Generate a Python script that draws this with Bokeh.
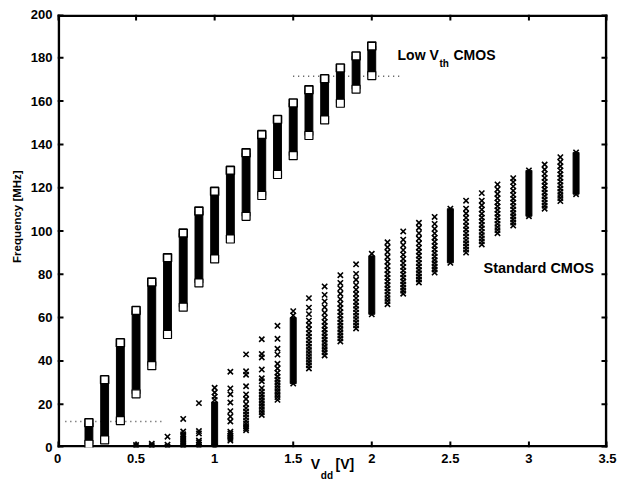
from bokeh.plotting import figure
from bokeh.models import Range1d, LinearAxis, FixedTicker, Label
from bokeh.embed import file_html
from bokeh.resources import INLINE

# ---------------- data ----------------
# Low Vth CMOS: supply voltage, lowest and highest measured frequency [MHz]
lv_vdd = [0.2, 0.3, 0.4, 0.5, 0.6, 0.7, 0.8, 0.9, 1.0, 1.1, 1.2, 1.3, 1.4, 1.5, 1.6, 1.7, 1.8, 1.9, 2.0]
lv_lo = [1.5, 3.5, 12.4, 24.8, 37.8, 52.2, 64.8, 76.0, 87.1, 96.3, 106.8, 116.4, 126.1, 134.8, 144.1, 151.3, 159.0, 165.5, 171.8]
lv_hi = [11.4, 31.3, 48.4, 63.3, 76.4, 87.6, 99.0, 109.2, 118.3, 128.0, 136.1, 144.5, 151.5, 159.1, 165.2, 170.3, 175.3, 180.8, 185.4]

# Standard CMOS: densely sampled supply voltages (solid columns)
dense_vdd = [1.0, 1.5, 2.0, 2.5, 3.0, 3.3]
dense_lo = [0.4, 29.5, 61.5, 85.3, 106.8, 117.0]
dense_hi = [21.0, 60.0, 88.5, 110.3, 128.0, 136.3]

# Standard CMOS: individual readings per supply voltage [MHz]
std_05 = [0.6, 1.2]
std_06 = [0.5, 1.1, 1.8]
std_07 = [0.5, 1.3, 5.0]
std_08 = [0.4, 1.1, 1.9, 2.7, 3.5, 4.3, 5.2, 6.1, 7.4, 13.2]
std_09 = [0.5, 1.4, 2.4, 3.2, 6.5, 7.6, 20.5]
std_10 = [0.5, 22.0, 23.5, 25.4, 27.6]
std_11 = [3.2, 4.0, 4.8, 5.6, 6.5, 7.3, 12.0, 14.3, 16.8, 20.8, 24.6, 27.3, 35.0]
std_12 = [8.0, 8.9, 9.8, 11.0, 12.3, 13.8, 15.2, 16.6, 18.2, 20.0, 22.4, 24.5, 28.3, 33.6, 35.2, 43.0]
std_13 = [15.0, 16.3, 17.6, 18.9, 20.2, 21.6, 23.0, 24.4, 25.8, 27.4, 30.6, 32.0, 36.0, 41.6, 43.2, 50.0]
std_14 = [22.0, 23.3, 24.6, 25.9, 27.2, 28.5, 29.9, 31.3, 32.8, 34.5, 36.5, 38.7, 42.9, 45.6, 50.2, 56.2]
std_15 = [29.5, 61.0, 63.0]
std_16 = [36.5, 38.0, 39.4, 40.8, 42.2, 43.6, 45.0, 46.5, 48.0, 49.6, 51.2, 52.8, 54.6, 56.6, 58.6, 61.6, 64.6, 69.0]
std_17 = [42.5, 44.0, 45.4, 46.8, 48.3, 49.8, 51.3, 52.9, 54.5, 56.2, 58.0, 60.0, 62.2, 64.8, 67.5, 70.5, 74.4]
std_18 = [49.0, 50.4, 51.8, 53.2, 54.7, 56.2, 57.7, 59.3, 60.9, 62.6, 64.4, 66.3, 68.5, 71.0, 73.5, 76.0, 79.6]
std_19 = [55.0, 56.4, 57.8, 59.3, 60.8, 62.3, 63.9, 65.5, 67.2, 69.0, 70.9, 72.9, 75.0, 77.5, 80.2, 84.6]
std_20 = [61.5, 89.5]
std_21 = [66.2, 67.6, 69.0, 70.5, 72.0, 73.5, 75.1, 76.7, 78.4, 80.1, 81.9, 83.8, 85.8, 88.0, 90.3, 92.5, 94.8]
std_22 = [71.0, 72.4, 73.8, 75.3, 76.8, 78.4, 80.0, 81.7, 83.4, 85.2, 87.1, 89.1, 91.2, 93.5, 96.0, 99.8]
std_23 = [76.2, 77.6, 79.0, 80.5, 82.0, 83.6, 85.2, 86.9, 88.6, 90.4, 92.3, 94.3, 96.5, 99.0, 101.5, 103.8]
std_24 = [80.8, 82.2, 83.6, 85.1, 86.6, 88.2, 89.8, 91.5, 93.2, 95.0, 96.9, 98.9, 101.0, 103.3, 106.5]
std_25 = [85.3, 110.3]
std_26 = [90.0, 91.4, 92.8, 94.3, 95.8, 97.4, 99.0, 100.7, 102.4, 104.2, 106.1, 108.1, 110.3, 114.0]
std_27 = [93.8, 95.2, 96.6, 98.1, 99.6, 101.2, 102.8, 104.5, 106.2, 108.0, 109.9, 111.9, 114.0, 117.5]
std_28 = [99.0, 100.4, 101.8, 103.3, 104.8, 106.4, 108.0, 109.7, 111.4, 113.2, 115.1, 117.1, 119.2, 121.5]
std_29 = [102.5, 103.9, 105.3, 106.8, 108.3, 109.9, 111.5, 113.2, 114.9, 116.7, 118.6, 120.6, 122.6, 124.4]
std_30 = [106.8, 128.0]
std_31 = [110.3, 111.7, 113.1, 114.6, 116.1, 117.7, 119.3, 121.0, 122.7, 124.5, 126.4, 128.4, 130.7]
std_32 = [113.8, 115.2, 116.6, 118.1, 119.6, 121.2, 122.8, 124.5, 126.2, 128.0, 129.9, 131.9, 134.1]
std_33 = [117.0, 136.3]

std_vdd = [0.5, 0.6, 0.7, 0.8, 0.9, 1.0, 1.1, 1.2, 1.3, 1.4, 1.5, 1.6, 1.7, 1.8, 1.9,
           2.0, 2.1, 2.2, 2.3, 2.4, 2.5, 2.6, 2.7, 2.8, 2.9, 3.0, 3.1, 3.2, 3.3]
std_cols = [std_05, std_06, std_07, std_08, std_09, std_10, std_11, std_12, std_13, std_14,
            std_15, std_16, std_17, std_18, std_19, std_20, std_21, std_22, std_23, std_24,
            std_25, std_26, std_27, std_28, std_29, std_30, std_31, std_32, std_33]

# dotted reference levels
guide_y = [12.0, 171.5]
guide_x0 = [0.05, 1.5]
guide_x1 = [0.68, 2.2]

# axes
x_min, x_max = 0.0, 3.5
y_min, y_max = 0.0, 200.0
x_ticks = [0, 0.5, 1, 1.5, 2, 2.5, 3, 3.5]
x_tick_labels = ["0", "0.5", "1", "1.5", "2", "2.5", "3", "3.5"]
y_ticks = [0, 20, 40, 60, 80, 100, 120, 140, 160, 180, 200]
y_tick_labels = ["0", "20", "40", "60", "80", "100", "120", "140", "160", "180", "200"]

FONT = "Liberation Sans"
NB = "\u00a0"

# ---------------- figure ----------------
p = figure(width=631, height=485, x_range=Range1d(x_min, x_max), y_range=Range1d(y_min, y_max),
           output_backend="svg", toolbar_location=None,
           min_border_left=57, min_border_right=24, min_border_top=14, min_border_bottom=38)
p.xgrid.visible = False
p.ygrid.visible = False
p.outline_line_color = None
p.background_fill_color = "white"
p.border_fill_color = "white"

# pixel -> data conversion for the frame box and the inward ticks
px_x = (x_max - x_min) / 550.0
px_y = (y_max - y_min) / 433.0


def style_axis(ax, show_labels):
    ax.axis_line_color = None
    ax.major_tick_line_color = None
    ax.minor_tick_line_color = None
    ax.major_tick_in = 0
    ax.major_tick_out = 0
    ax.major_label_text_font = FONT
    ax.major_label_text_font_style = "bold"
    ax.major_label_text_color = "black"
    ax.axis_label_text_font = FONT
    ax.axis_label_text_font_style = "bold"
    ax.axis_label_text_color = "black"
    if show_labels:
        ax.major_label_text_font_size = "13px"
        ax.major_label_standoff = 6
    else:
        ax.major_label_text_font_size = "1px"
        ax.major_label_standoff = 0


p.xaxis.ticker = FixedTicker(ticks=x_ticks)
p.xaxis.major_label_overrides = {float(t): l for t, l in zip(x_ticks, x_tick_labels)}
p.yaxis.ticker = FixedTicker(ticks=y_ticks)
p.yaxis.major_label_overrides = {float(t): l for t, l in zip(y_ticks, y_tick_labels)}
style_axis(p.xaxis[0], True)
style_axis(p.yaxis[0], True)
p.yaxis.major_label_standoff = 5

# axis titles (V_dd [V] is split over two stacked bottom axes for the subscript)
p.xaxis.axis_label = "V" + NB * 4 + "[V]"
p.xaxis.axis_label_text_font_size = "14px"
p.xaxis.axis_label_standoff = -10
p.yaxis.axis_label = NB * 9 + "Frequency [MHz]"
p.yaxis.axis_label_text_font_size = "11.5px"
p.yaxis.axis_label_standoff = 5

sub_ax = LinearAxis(ticker=FixedTicker(ticks=[]), axis_label="dd" + NB * 4)
style_axis(sub_ax, False)
sub_ax.axis_label_text_font_size = "10px"
sub_ax.axis_label_standoff = -5
p.add_layout(sub_ax, "below")

# ---------------- frame box and inward ticks (filled shapes) ----------------
bw_x = 2.6 * px_x
bw_y = 2.6 * px_y
p.quad(left=[x_min, x_max - bw_x, x_min, x_min],
       right=[x_min + bw_x, x_max, x_max, x_max],
       bottom=[y_min, y_min, y_min, y_max - bw_y],
       top=[y_max, y_max, y_min + bw_y, y_max],
       fill_color="black", line_color=None)

tw_x = 2.0 * px_x      # tick thickness
tw_y = 2.0 * px_y
tl_x = 6.0 * px_x      # tick length
tl_y = 6.0 * px_y
nx, ny = len(x_ticks), len(y_ticks)
p.quad(left=[t - tw_x / 2 for t in x_ticks] * 2,
       right=[t + tw_x / 2 for t in x_ticks] * 2,
       bottom=[y_min] * nx + [y_max - tl_y] * nx,
       top=[y_min + tl_y] * nx + [y_max] * nx,
       fill_color="black", line_color=None)
p.quad(left=[x_min] * ny + [x_max - tl_x] * ny,
       right=[x_min + tl_x] * ny + [x_max] * ny,
       bottom=[t - tw_y / 2 for t in y_ticks] * 2,
       top=[t + tw_y / 2 for t in y_ticks] * 2,
       fill_color="black", line_color=None)

# dotted guide lines
p.segment(x0=guide_x0, y0=guide_y, x1=guide_x1, y1=guide_y,
          line_color="#444444", line_width=1.5, line_dash="1 4")

# Standard CMOS
sx, sy = [], []
for v, vals in zip(std_vdd, std_cols):
    sx.extend([v] * len(vals))
    sy.extend(vals)
p.vbar(x=dense_vdd, bottom=dense_lo, top=dense_hi, width=0.038,
       fill_color="black", line_color="black", line_width=1)
p.scatter(x=sx, y=sy, marker="x", size=7.5, line_color="black", line_width=1.6)

# Low Vth CMOS
p.vbar(x=lv_vdd, bottom=lv_lo, top=lv_hi, width=0.05,
       fill_color="black", line_color="black", line_width=1)
p.scatter(x=lv_vdd, y=lv_lo, marker="square", size=8,
          fill_color="white", line_color="black", line_width=1.2)
p.scatter(x=lv_vdd, y=lv_hi, marker="square", size=8,
          fill_color="white", line_color="black", line_width=1.6)


# ---------------- texts inside the plot ----------------
def lab(x, y, text, size):
    p.add_layout(Label(x=x, y=y, text=text, text_font=FONT, text_font_style="bold",
                       text_font_size=size, text_color="black", text_align="left",
                       text_baseline="alphabetic"))


lab(2.164, 181.1, "Low V", "14px")
lab(2.431, 177.4, "th", "10px")
lab(2.52, 181.1, "CMOS", "14px")
lab(2.711, 82.7, "Standard CMOS", "14.5px")

open("out.html", "w").write(file_html(p, INLINE))
